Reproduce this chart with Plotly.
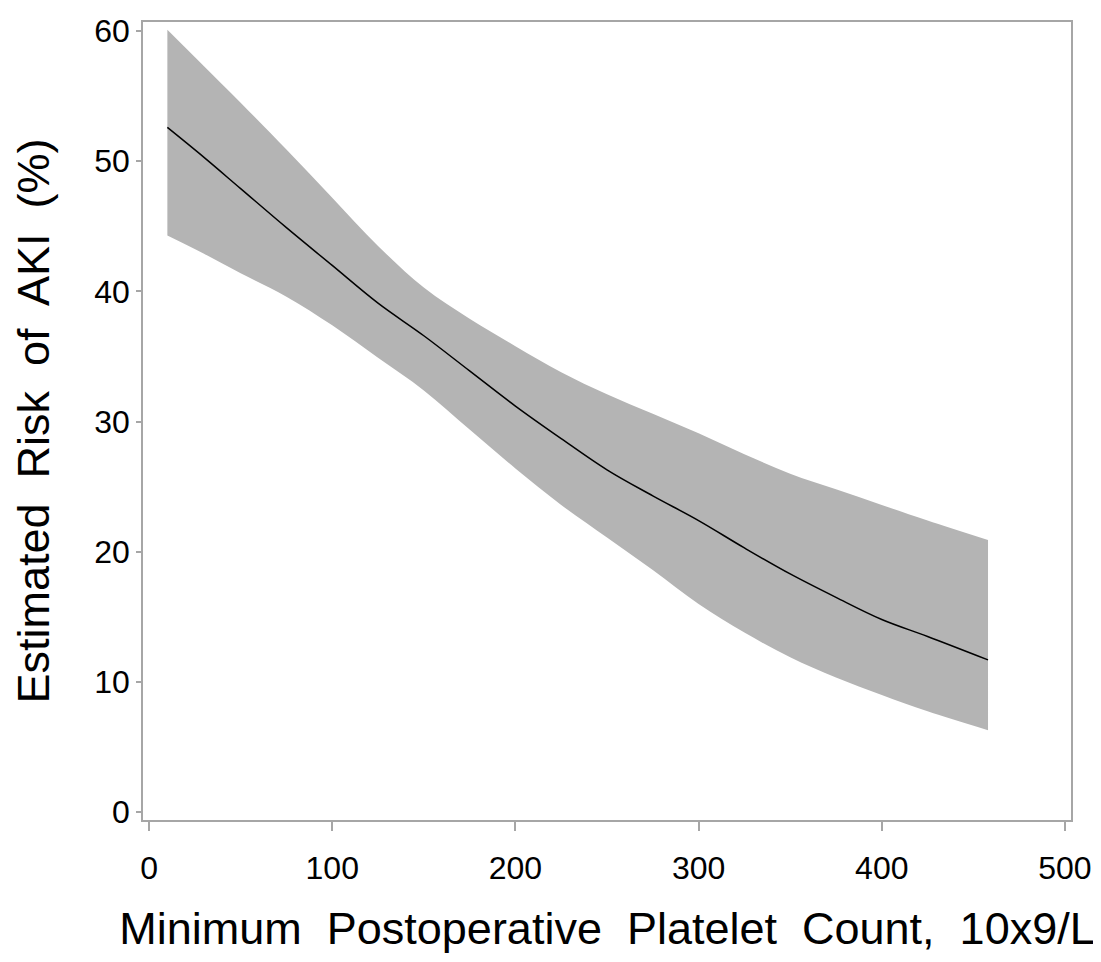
import plotly.graph_objects as go

platelet = [10, 30, 50, 75, 100, 125, 150, 175, 200, 225, 250, 275, 300, 325, 350, 375, 400, 425, 458]
risk = [52.6, 50.3, 47.9, 44.9, 42.0, 39.1, 36.6, 33.9, 31.2, 28.7, 26.3, 24.3, 22.4, 20.3, 18.3, 16.5, 14.8, 13.5, 11.7]
upper = [60.1, 57.3, 54.5, 50.9, 47.2, 43.5, 40.3, 37.9, 35.8, 33.8, 32.1, 30.6, 29.1, 27.5, 26.0, 24.8, 23.6, 22.4, 20.9]
lower = [44.3, 42.9, 41.4, 39.6, 37.4, 34.9, 32.4, 29.4, 26.4, 23.6, 21.1, 18.6, 16.0, 13.8, 11.9, 10.35, 9.0, 7.75, 6.3]

x_ticks = [0, 100, 200, 300, 400, 500]
y_ticks = [0, 10, 20, 30, 40, 50, 60]

FONT = "Liberation Sans, Arial, sans-serif"
AX = "#a6a6a6"

fig = go.Figure()
fig.add_trace(go.Scatter(x=platelet, y=lower, mode="lines",
                         line=dict(width=0, shape="spline", color="#b4b4b4"),
                         hoverinfo="skip", showlegend=False))
fig.add_trace(go.Scatter(x=platelet, y=upper, mode="lines", fill="tonexty",
                         fillcolor="#b4b4b4",
                         line=dict(width=0, shape="spline", color="#b4b4b4"),
                         hoverinfo="skip", showlegend=False))
fig.add_trace(go.Scatter(x=platelet, y=risk, mode="lines",
                         line=dict(color="black", width=1.5, shape="spline"),
                         showlegend=False))

fig.update_layout(
    width=1093, height=946,
    margin=dict(l=135, r=30, t=5, b=134),
    paper_bgcolor="white", plot_bgcolor="white",
    font=dict(family=FONT, color="black"),
    xaxis=dict(range=[-3.3, 503.3], tickvals=x_ticks, ticks="outside", ticklen=9,
               tickcolor=AX, tickwidth=1.5, showgrid=False, zeroline=False,
               showline=True, linecolor=AX, linewidth=1.5, mirror=True,
               tickfont=dict(size=32, family=FONT), ticklabelstandoff=10,
               ticklabeloverflow="allow",
               title=dict(text="Minimum\u00a0 Postoperative\u00a0 Platelet\u00a0 Count,\u00a0 10x9/L",
                          font=dict(size=45, family=FONT), standoff=28)),
    yaxis=dict(range=[-0.6, 60.7], tickvals=y_ticks, ticks="outside", ticklen=5,
               tickcolor=AX, tickwidth=1.5, showgrid=False, zeroline=False,
               showline=True, linecolor=AX, linewidth=1.5, mirror=True,
               tickfont=dict(size=32, family=FONT), ticklabeloverflow="allow",
               title=dict(text="Estimated\u00a0 Risk\u00a0 of\u00a0 AKI\u00a0 (%)",
                          font=dict(size=45, family=FONT), standoff=34)),
)

fig.write_html("out.html")
